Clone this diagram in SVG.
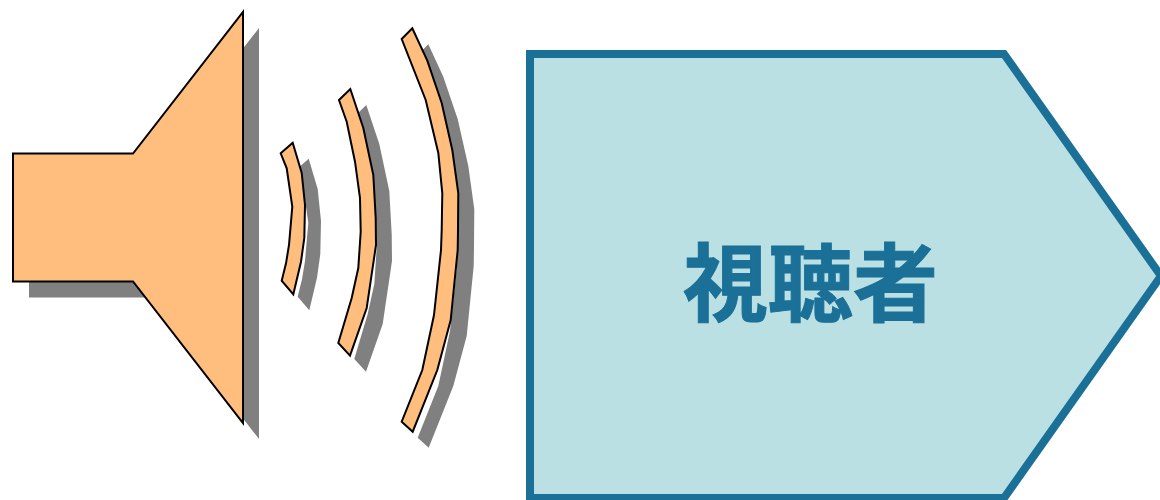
<svg xmlns="http://www.w3.org/2000/svg" width="1160" height="500" viewBox="0 0 1160 500">
<style>
.s{fill:#808080;stroke:none}
.o{fill:#ffbe7d;stroke:#000;stroke-width:2;stroke-linejoin:miter}
.t{font-family:"Noto Sans CJK JP","Noto Sans CJK SC",sans-serif;font-weight:700;font-size:85px;fill:#1a7097;stroke:#1a7097;stroke-width:1;text-anchor:middle}
</style>
<defs>
<polygon id="sp" points="13,153.5 133,153.5 243,12 243,423 133,281.5 13,281.5"/>
<polygon id="a1" points="280.7,153.3 292.7,142.7 301.7,173 305,205 304.3,238 301,261.7 293.3,294.3 281.7,280.7 286,263.3 289,245 292.3,206.7 286.7,168.3"/>
<polygon id="a2" points="339,100 350.3,89 363.3,128 373.3,175 375.7,218 376,245 366.7,308 350,355.7 338.3,343 351.7,298 358.3,268 360.7,231.7 360,198 355,161.7 346.7,121.7"/>
<polygon id="a3" points="401.7,39 412.3,28.3 427.3,60.7 441.7,103 452.3,150 458.3,193.3 458,230 457.7,250 450.7,320 437.3,370 412.7,431.7 401.7,421.7 422.3,370 434,315 441,250 441.7,230 442.3,193.3 438.3,153 425.7,100"/>
</defs>
<g id="speaker"><use href="#sp" class="s" x="16" y="16"/><use href="#sp" class="o"/></g>
<g id="wave1"><use href="#a1" class="s" x="16" y="16"/><use href="#a1" class="o"/></g>
<g id="wave2"><use href="#a2" class="s" x="16" y="16"/><use href="#a2" class="o"/></g>
<g id="wave3"><use href="#a3" class="s" x="16" y="16"/><use href="#a3" class="o"/></g>
<g id="connectors"/>
<g id="viewer">
<polygon points="530,54 1004,54 1161,276 1004,498 530,498" fill="#bbe0e3" stroke="#1a7097" stroke-width="8" stroke-linejoin="miter"/>
<text class="t" x="810.5" y="315">視聴者</text>
</g>
</svg>
